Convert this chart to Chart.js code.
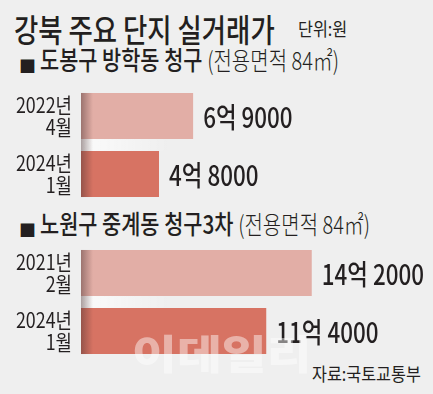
<!DOCTYPE html>
<html><head><meta charset="utf-8">
<script src="https://cdn.jsdelivr.net/npm/chart.js@4.4.1/dist/chart.umd.min.js"></script>
<style>
html,body{margin:0;padding:0;background:#efefef;}
#wrap{position:relative;width:433px;height:394px;overflow:hidden;background:#efefef;font-family:"Noto Sans CJK KR",sans-serif;color:#231f20;}
.t{position:absolute;white-space:nowrap;transform-origin:0 0;line-height:1;}
canvas{position:absolute;left:0;}
</style></head>
<body><div id="wrap">
<div class="t" id="title" style="left:14px;top:12px;font-size:32px;font-weight:500;transform:scaleX(0.825);">강북 주요 단지 실거래가</div>
<div class="t" id="unit" style="left:298px;top:19px;font-size:18px;font-weight:400;transform:scaleX(0.9);">단위:원</div>
<div class="t" style="left:19px;top:57px;font-size:17px;">■</div>
<div class="t" id="h1" style="left:40px;top:46px;font-size:26px;font-weight:500;transform:scaleX(0.8);"></div>
<div class="t" style="left:19px;top:221px;font-size:17px;">■</div>
<div class="t" id="h2" style="left:40px;top:210px;font-size:26px;font-weight:500;transform:scaleX(0.8);"></div>
<canvas id="c1" width="433" height="116" style="top:87px"></canvas>
<canvas id="c2" width="433" height="116" style="top:244px"></canvas>
<div class="t" id="wm" style="left:132px;top:332px;font-size:40px;font-weight:900;color:rgba(255,255,255,0.45);z-index:2;transform:scaleX(1.22);">이데일리</div>
<div class="t" id="src" style="left:312px;top:364px;font-size:18px;font-weight:400;transform:scaleX(0.9);">자료:국토교통부</div>
</div>
<script>
// ---- data ----
const groupNames = ['도봉구 방학동 청구', '노원구 중계동 청구3차'];
const areaNote = '(전용면적 84㎡)';
const labels1 = [['2022년', '4월'], ['2024년', '1월']];
const values1 = [69000, 48000];   // 만원
const labels2 = [['2021년', '2월'], ['2024년', '1월']];
const values2 = [142000, 114000]; // 만원
const barColors = ['#e2aea6', '#d77363'];
const textColor = '#231f20';

function heading(el, name) {
  el.innerHTML = name + ' <span style="font-weight:300;font-size:25px;">' + areaNote + '</span>';
}
heading(document.getElementById('h1'), groupNames[0]);
heading(document.getElementById('h2'), groupNames[1]);

function fmt(v) {
  const eok = Math.floor(v / 10000), man = v % 10000;
  return eok + '억 ' + man;
}

const decor = {
  id: 'decor',
  beforeDraw(chart) {
    const y = chart.scales.y;
    if (!y._condensed) {
      const orig = y.drawLabels.bind(y);
      y.drawLabels = function (area) {
        const ctx = this.ctx, rx = this.right - this.options.ticks.padding;
        ctx.save();
        ctx.translate(rx, 0);
        ctx.scale(0.85, 1);
        ctx.translate(-rx, 0);
        orig(area);
        ctx.restore();
      };
      y._condensed = true;
    }
  },
  beforeDatasetsDraw(chart) {
    const ctx = chart.ctx;
    const meta = chart.getDatasetMeta(0);
    const b0 = meta.data[0], b1 = meta.data[1];
    const x0 = chart.chartArea.left;
    const gTop = b0.y + b0.height / 2, gBot = b1.y - b1.height / 2;
    const g = ctx.createLinearGradient(x0, 0, x0 + 90, 0);
    g.addColorStop(0, 'rgba(255,255,255,0.75)');
    g.addColorStop(1, 'rgba(255,255,255,0)');
    ctx.save();
    ctx.fillStyle = g;
    ctx.fillRect(x0, gTop, 90, gBot - gTop);
    ctx.restore();
  },
  afterDatasetsDraw(chart) {
    const ctx = chart.ctx;
    const meta = chart.getDatasetMeta(0);
    const vals = chart.data.datasets[0].data;
    const b0 = meta.data[0], b1 = meta.data[1];
    const x0 = chart.chartArea.left;
    const top = b0.y - b0.height / 2, bot = b1.y + b1.height / 2;
    const g = ctx.createLinearGradient(x0, 0, x0 + 12, 0);
    g.addColorStop(0, 'rgba(70,45,45,0.45)');
    g.addColorStop(1, 'rgba(70,45,45,0)');
    ctx.save();
    ctx.fillStyle = g;
    ctx.fillRect(x0, top, 12, bot - top);
    ctx.restore();
    // value labels
    meta.data.forEach((bar, i) => {
      ctx.save();
      ctx.translate(bar.x + 10, bar.y + 1);
      ctx.scale(0.8, 1);
      ctx.fillStyle = textColor;
      ctx.font = '500 28px "Noto Sans CJK KR", sans-serif';
      ctx.textAlign = 'left';
      ctx.textBaseline = 'middle';
      ctx.fillText(fmt(vals[i]), 0, 0);
      ctx.restore();
    });
  }
};

function makeChart(id, labels, values) {
  return new Chart(document.getElementById(id), {
    type: 'bar',
    data: {
      labels: labels,
      datasets: [{ data: values, backgroundColor: barColors, borderWidth: 0,
        barPercentage: 0.795, categoryPercentage: 1 }]
    },
    options: {
      indexAxis: 'y',
      responsive: false,
      animation: false,
      devicePixelRatio: 1,
      layout: { padding: { left: 0, right: 27, top: 0, bottom: 0 } },
      plugins: { legend: { display: false }, tooltip: { enabled: false } },
      scales: {
        x: { display: false, min: 0, max: 200000 },
        y: {
          grid: { display: false, drawTicks: false },
          border: { display: false },
          afterFit(scale) { scale.width = 81; scale.paddingTop = 0; scale.paddingBottom = 0; },
          ticks: {
            color: textColor, padding: 9,
            font: { family: '"Noto Sans CJK KR",sans-serif', size: 21, lineHeight: 1.05 }
          }
        }
      }
    },
    plugins: [decor]
  });
}
makeChart('c1', labels1, values1);
makeChart('c2', labels2, values2);
</script>
</body></html>
